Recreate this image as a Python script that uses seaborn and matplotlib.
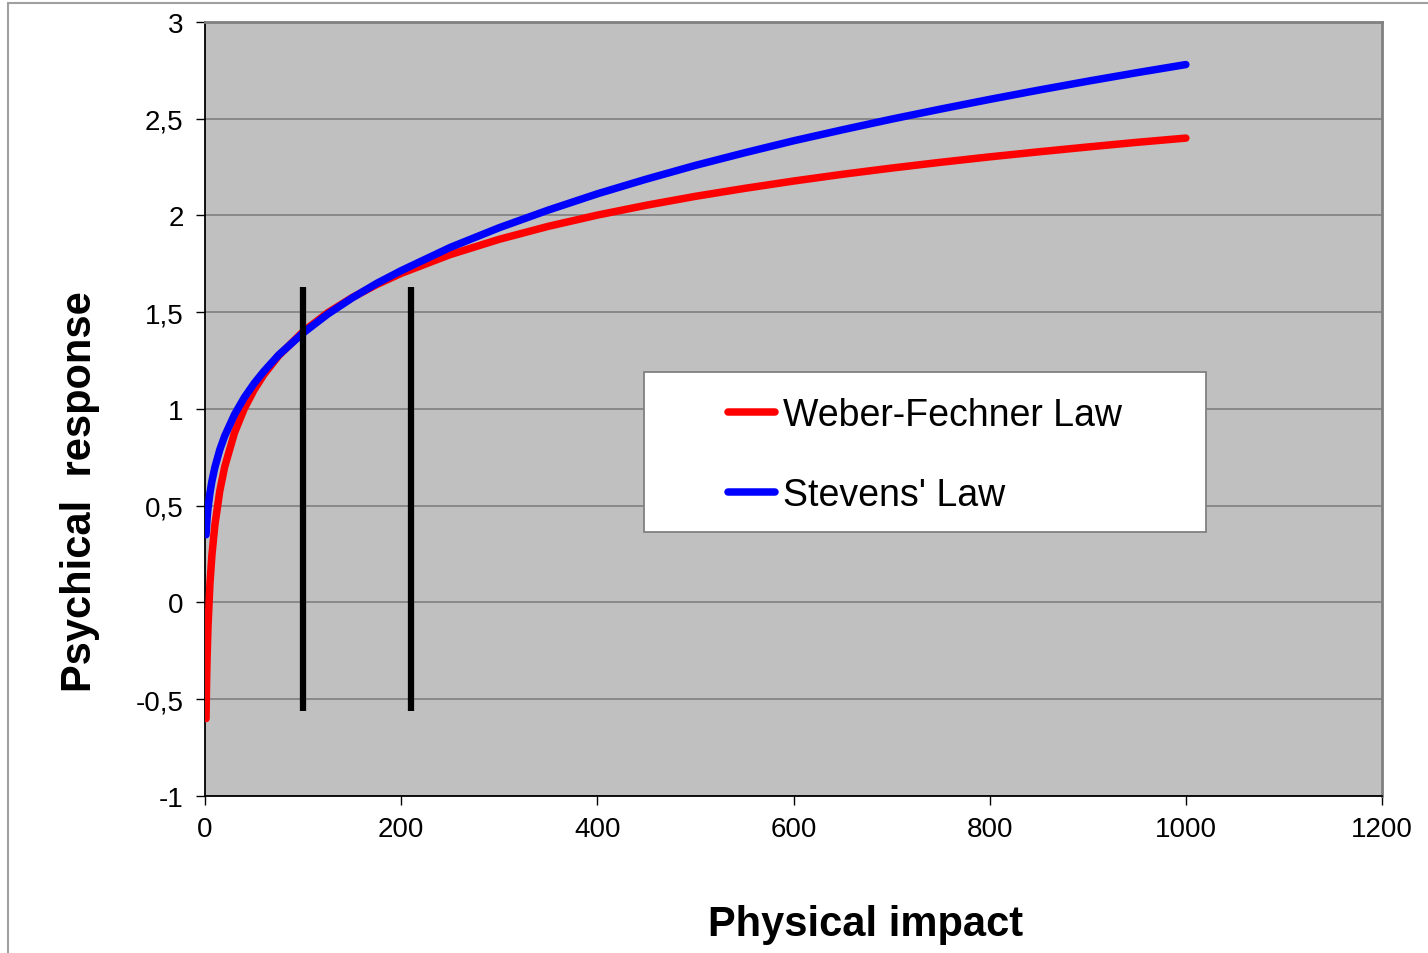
import numpy as np
import pandas as pd
import matplotlib
matplotlib.use("Agg")
import matplotlib.pyplot as plt
from matplotlib.patches import Rectangle
from matplotlib.lines import Line2D
import seaborn as sns


# Values
stimulus = [1, 1.5, 2, 3, 5, 7, 10, 15, 20, 30, 40, 50, 60, 75, 100, 125,
            150, 175, 200, 250, 300, 350, 400, 450, 500, 550, 600, 650,
            700, 750, 800, 850, 900, 950, 1000]

weber_fechner = [-0.600, -0.424, -0.299, -0.123, 0.099, 0.245, 0.400,
                 0.576, 0.701, 0.877, 1.002, 1.099, 1.178, 1.275, 1.400,
                 1.497, 1.576, 1.643, 1.701, 1.798, 1.877, 1.944, 2.002,
                 2.053, 2.099, 2.140, 2.178, 2.213, 2.245, 2.275, 2.303,
                 2.329, 2.354, 2.378, 2.400]

stevens = [0.350, 0.395, 0.431, 0.487, 0.567, 0.627, 0.698, 0.789, 0.860,
           0.971, 1.059, 1.132, 1.195, 1.279, 1.393, 1.490, 1.574, 1.649,
           1.715, 1.835, 1.937, 2.028, 2.112, 2.188, 2.259, 2.324, 2.386,
           2.443, 2.498, 2.550, 2.600, 2.648, 2.694, 2.738, 2.780]

series_names = ["Weber-Fechner Law", "Stevens' Law"]
series_colors = ["#FF0000", "#0000FF"]

# the two black vertical markers
marker_x = [100, 210]
marker_low = -0.56
marker_high = 1.63

x_ticks = [0, 200, 400, 600, 800, 1000, 1200]
y_ticks = [-1, -0.5, 0, 0.5, 1, 1.5, 2, 2.5, 3]
y_tick_labels = ["-1", "-0,5", "0", "0,5", "1", "1,5", "2", "2,5", "3"]

x_label = "Physical impact"
y_label = "Psychical  response"


df = pd.DataFrame({
    "x": stimulus * 2,
    "y": weber_fechner + stevens,
    "law": [series_names[0]] * len(stimulus) + [series_names[1]] * len(stimulus),
})


sns.set_style("white")
plt.rcParams["font.family"] = ["Liberation Sans", "DejaVu Sans"]
plt.rcParams["text.color"] = "black"
plt.rcParams["axes.labelcolor"] = "black"
plt.rcParams["xtick.color"] = "black"
plt.rcParams["ytick.color"] = "black"

fig = plt.figure(figsize=(14.28, 9.54), dpi=100)
ax = fig.add_axes([0.1436, 0.1646, 0.8242, 0.8113])
ax.set_facecolor("#C0C0C0")

sns.lineplot(
    data=df, x="x", y="y", hue="law",
    palette=dict(zip(series_names, series_colors)),
    linewidth=5.4, solid_capstyle="round", solid_joinstyle="round",
    sort=False, ax=ax, zorder=3
)

ax.vlines(marker_x, marker_low, marker_high, colors="black",
          linewidth=4.5, zorder=4)

ax.set_xlim(0, 1200)
ax.set_ylim(-1, 3)
ax.set_xticks(x_ticks)
ax.set_xticklabels([str(t) for t in x_ticks])
ax.set_yticks(y_ticks)
ax.set_yticklabels(y_tick_labels)

ax.grid(axis="y", color="#808080", linewidth=1.2)
ax.grid(axis="x", visible=False)
ax.set_axisbelow(True)

ax.tick_params(axis="both", direction="out", length=6.5, width=1,
               colors="black", labelsize=20)
ax.tick_params(axis="x", pad=8, bottom=True)
ax.tick_params(axis="y", pad=9, left=True)

for side in ["left", "bottom"]:
    ax.spines[side].set_color("black")
    ax.spines[side].set_linewidth(1.3)
for side in ["top", "right"]:
    ax.spines[side].set_color("#808080")
    ax.spines[side].set_linewidth(2)

ax.set_xlabel(x_label, fontsize=30, fontweight="bold", color="black")
ax.set_ylabel(y_label, fontsize=30, fontweight="bold", color="black")
ax.xaxis.set_label_coords(0.5616, -0.139)
ax.yaxis.set_label_coords(-0.0893, 0.395)

# legend box
box_x, box_y, box_w, box_h = 0.373, 0.341, 0.4775, 0.2067
ax.add_patch(Rectangle((box_x, box_y), box_w, box_h, transform=ax.transAxes,
                       facecolor="white", edgecolor="#808080",
                       linewidth=1.3, zorder=6))

handles, labels = ax.get_legend_handles_labels()
leg = ax.legend(handles, labels, loc="center",
                bbox_to_anchor=(box_x + box_w / 2, box_y + box_h / 2 - 0.004),
                frameon=False, fontsize=27, handlelength=1.26,
                handletextpad=0.2, labelspacing=1.16, borderpad=0)
leg.set_zorder(7)
for line in leg.get_lines():
    line.set_linewidth(5.4)
    line.set_solid_capstyle("round")
for text in leg.get_texts():
    text.set_color("black")

# outer frame of the picture
fig.add_artist(Line2D([0.0056, 0.0056], [0, 0.9953], color="#A0A0A0",
                      linewidth=1.5))
fig.add_artist(Line2D([0.0056, 1], [0.9953, 0.9953], color="#A0A0A0",
                      linewidth=1.5))

fig.savefig("out.png", dpi=100)
